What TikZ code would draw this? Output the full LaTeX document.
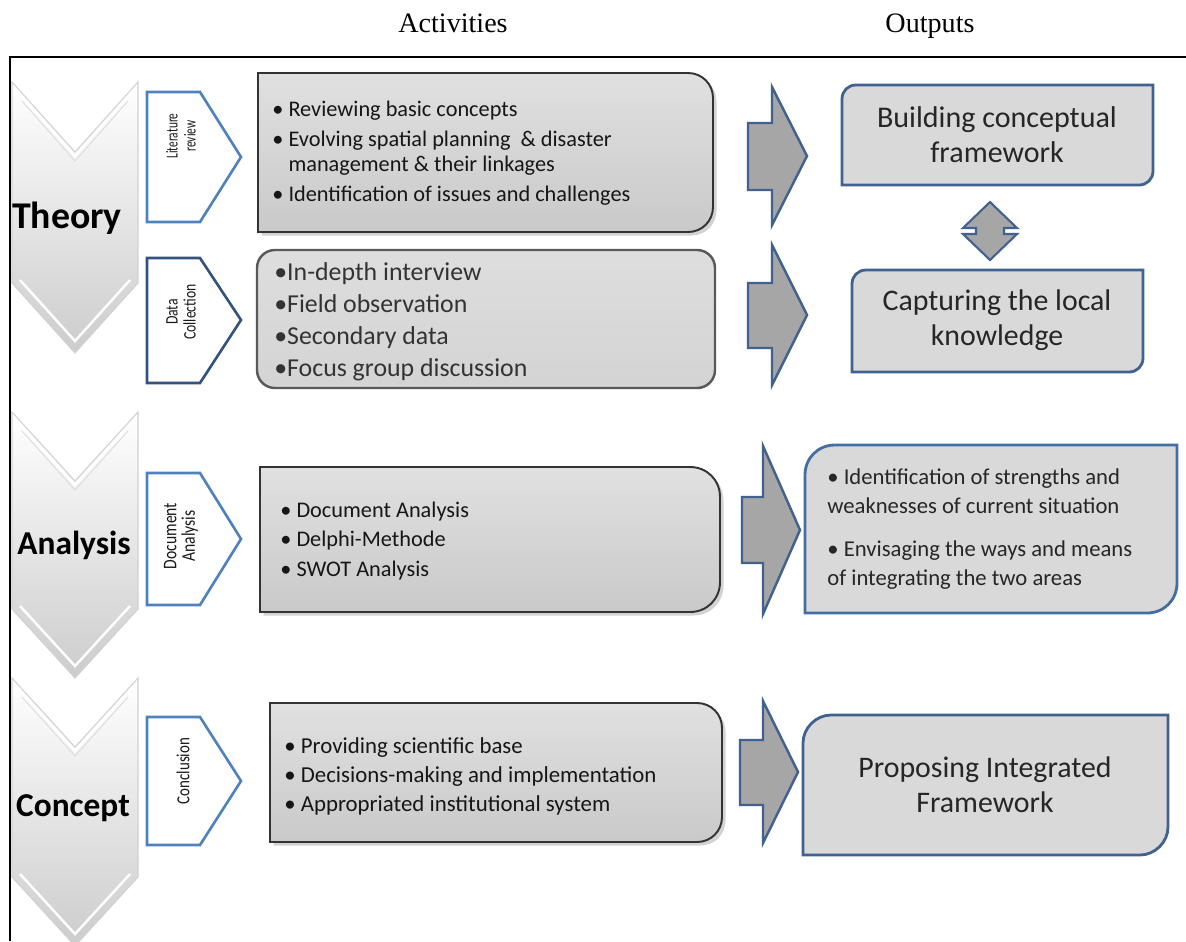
\documentclass[tikz,border=0pt]{standalone}
\usepackage{fontspec}
\setmainfont{Carlito}
\newfontfamily\serifhead{Liberation Serif}
\newfontfamily\tabnarrow[FakeStretch=0.68]{Carlito}
\newfontfamily\tabmid[FakeStretch=0.78]{Carlito}
\newfontfamily\tabwide[FakeStretch=0.81]{Carlito}
\usetikzlibrary{shadows}

\definecolor{tabblue}{RGB}{79,129,189}
\definecolor{tabnavy}{RGB}{52,82,126}
\definecolor{outblue}{RGB}{65,98,143}
\definecolor{outgray}{RGB}{217,217,217}
\definecolor{arrowgray}{RGB}{166,166,166}
\definecolor{txt}{RGB}{22,22,22}

\tikzset{
  chev/.style={top color=white, bottom color=black!20, draw=black!18, line width=0.6pt},
  chevglow/.style={draw=white, line width=1.4pt},
  chevedge/.style={draw=black!14, line width=0.5pt},
  stage/.style={text=black, inner sep=0pt},
  tab/.style={draw=tabblue, fill=white, line width=1.5pt, line join=miter},
  tablabel/.style={rotate=90, align=center, text=black!90, inner sep=0pt},
  actbox/.style={top color=black!12, bottom color=black!21, draw=black!80, line width=1.1pt,
    drop shadow={shadow xshift=2pt, shadow yshift=-2pt, opacity=0.35}},
  outbox/.style={fill=outgray, draw=outblue, line width=1.6pt},
  blockarrow/.style={fill=arrowgray, draw=outblue, line width=1.4pt, line join=miter},
  acttext/.style={align=left, anchor=west, inner sep=0pt, text=txt},
  outtext/.style={align=center, inner sep=0pt, text=black!85},
  heading/.style={font=\serifhead\fontsize{16}{19}\selectfont, inner sep=0pt, anchor=base}
}

\begin{document}
\begin{tikzpicture}[x=0.02cm, y=-0.02cm]
\useasboundingbox (0,0) rectangle (1186,941);

% column headings
\node[heading] (hact) at (453,32) {Activities};
\node[heading] (hout) at (930,32) {Outputs};

% outer frame
\draw[line width=0.9pt] (10,941) -- (10,57) -- (1186,57);

% stage chevrons with a light bevel along both V edges
\path[chev] (12,82) -- (75,152) -- (138,82) -- (138,283) -- (75,353) -- (12,283) -- cycle;
\draw[chevglow] (18,92) -- (75,156) -- (132,92);
\draw[chevedge] (22,101) -- (75,161) -- (128,101);
\draw[chevglow] (20,280) -- (75,341) -- (130,280);
\path[chev] (12,412) -- (75,481) -- (138,412) -- (138,609) -- (75,678) -- (12,609) -- cycle;
\draw[chevglow] (18,422) -- (75,485) -- (132,422);
\draw[chevedge] (22,431) -- (75,490) -- (128,431);
\draw[chevglow] (20,606) -- (75,666) -- (130,606);
\path[chev] (12,678) -- (75,747) -- (138,678) -- (138,877) -- (75,946) -- (12,877) -- cycle;
\draw[chevglow] (18,688) -- (75,751) -- (132,688);
\draw[chevedge] (22,697) -- (75,756) -- (128,697);
\draw[chevglow] (20,874) -- (75,934) -- (130,874);

\node[stage, font=\fontsize{21.5}{24}\selectfont\bfseries] (theory) at (67,218) {Theory};
\node[stage, font=\fontsize{19}{24}\selectfont\bfseries] (analysis) at (74,545) {Analysis};
\node[stage, font=\fontsize{19}{24}\selectfont\bfseries] (concept) at (73,808) {Concept};

% activity tabs
\draw[tab] (147,92) -- (200,92) -- (241,157) -- (200,222) -- (147,222) -- cycle;
\draw[tab, draw=tabnavy] (147,258) -- (200,258) -- (241,320) -- (200,383) -- (147,383) -- cycle;
\draw[tab] (147,473) -- (200,473) -- (241,539) -- (200,605) -- (147,605) -- cycle;
\draw[tab] (147,717) -- (200,717) -- (241,781) -- (200,845) -- (147,845) -- cycle;

\node[tablabel, font=\tabnarrow\fontsize{9.5}{10.2}\selectfont] (litrev) at (181,136) {Literature\\review};
\node[tablabel, font=\tabmid\fontsize{10}{10.2}\selectfont] (datacol) at (181,312) {Data\\Collection};
\node[tablabel, font=\tabwide\fontsize{11}{10.5}\selectfont] (docan) at (181,536) {Document\\Analysis};
\node[tablabel, font=\tabwide\fontsize{10.5}{10}\selectfont] (concl) at (183,771) {Conclusion};

% activity boxes
\path[actbox] (258,73) -- (688,73) .. controls (702,73) and (713,84) .. (713,98) -- (713,207)
  .. controls (713,221) and (702,232) .. (688,232) -- (258,232) -- cycle;
\path[top color=black!13, bottom color=black!17, draw=black!65, line width=1.4pt]
  (275,250) -- (697,250) .. controls (707,250) and (715,258) .. (715,268) -- (715,370)
  .. controls (715,380) and (707,388) .. (697,388) -- (275,388)
  .. controls (265,388) and (257,380) .. (257,370) -- (257,268)
  .. controls (257,258) and (265,250) .. (275,250) -- cycle;
\path[actbox] (260,467) -- (690,467) .. controls (707,467) and (720,480) .. (720,497) -- (720,582)
  .. controls (720,599) and (707,612) .. (690,612) -- (260,612) -- cycle;
\path[actbox] (270,703) -- (697,703) .. controls (711,703) and (722,714) .. (722,728) -- (722,817)
  .. controls (722,831) and (711,842) .. (697,842) -- (270,842) -- cycle;

\node[acttext, font=\fontsize{12.7}{14.2}\selectfont] (act1) at (272,153)
  {\textbullet\ Reviewing basic concepts\\[3pt]
   \textbullet\ Evolving spatial planning \ \& disaster\\
   \hphantom{\textbullet\ }management \& their linkages\\[3pt]
   \textbullet\ Identification of issues and challenges};
\node[acttext, font=\fontsize{14.7}{18.2}\selectfont, text=black!80] (act2) at (274,322)
  {\textbullet In-depth interview\\
   \textbullet Field observation\\
   \textbullet Secondary data\\
   \textbullet Focus group discussion};
\node[acttext, font=\fontsize{12.7}{17}\selectfont] (act3) at (280,541)
  {\textbullet\ Document Analysis\\
   \textbullet\ Delphi-Methode\\
   \textbullet\ SWOT Analysis};
\node[acttext, font=\fontsize{13}{16.5}\selectfont] (act4) at (284,776)
  {\textbullet\ Providing scientific base\\
   \textbullet\ Decisions-making and implementation\\
   \textbullet\ Appropriated institutional system};

% block arrows
\draw[blockarrow] (748,123) -- (772,123) -- (772,87) -- (807,156) -- (772,225) -- (772,190) -- (748,190) -- cycle;
\draw[blockarrow] (748,283) -- (772,283) -- (772,245) -- (807,315) -- (772,385) -- (772,348) -- (748,348) -- cycle;
\draw[blockarrow] (742,497) -- (763,497) -- (763,446) -- (800,530) -- (763,614) -- (763,563) -- (742,563) -- cycle;
\draw[blockarrow] (740,740) -- (763,740) -- (763,701) -- (798,772) -- (763,843) -- (763,805) -- (740,805) -- cycle;

% outputs
\path[outbox] (856,85) -- (1153,85) -- (1153,171) .. controls (1153,179) and (1147,185) .. (1139,185)
  -- (842,185) -- (842,99) .. controls (842,91) and (848,85) .. (856,85) -- cycle;
\path[outbox] (866,270) -- (1143,270) -- (1143,358) .. controls (1143,366) and (1137,372) .. (1129,372)
  -- (852,372) -- (852,284) .. controls (852,276) and (858,270) .. (866,270) -- cycle;
\path[outbox, draw=tabblue!85!black] (835,445) -- (1177,445) -- (1177,583) .. controls (1177,600) and (1164,613) .. (1147,613)
  -- (805,613) -- (805,475) .. controls (805,458) and (818,445) .. (835,445) -- cycle;
\path[outbox] (831,715) -- (1168,715) -- (1168,827) .. controls (1168,842) and (1155,855) .. (1140,855)
  -- (803,855) -- (803,743) .. controls (803,728) and (816,715) .. (831,715) -- cycle;

% two-way link between the first two outputs
\draw[blockarrow, line width=1.2pt] (990,202) -- (1017,228) -- (1004,228) -- (1004,234) -- (1017,234) -- (990,260)
  -- (963,234) -- (976,234) -- (976,228) -- (963,228) -- cycle;

\node[outtext, font=\fontsize{17.1}{20}\selectfont] (out1) at (997,135) {Building conceptual\\framework};
\node[outtext, font=\fontsize{17}{20}\selectfont] (out2) at (997,320) {Capturing the local\\knowledge};
\node[acttext, font=\fontsize{12.9}{16.5}\selectfont, text=black!85] (out3) at (827,529)
  {\textbullet\ Identification of strengths and\\
   weaknesses of current situation\\[8pt]
   \textbullet\ Envisaging the ways and means\\
   of integrating the two areas};
\node[outtext, font=\fontsize{17}{20}\selectfont] (out4) at (985,785) {Proposing Integrated\\Framework};
\end{tikzpicture}
\end{document}
